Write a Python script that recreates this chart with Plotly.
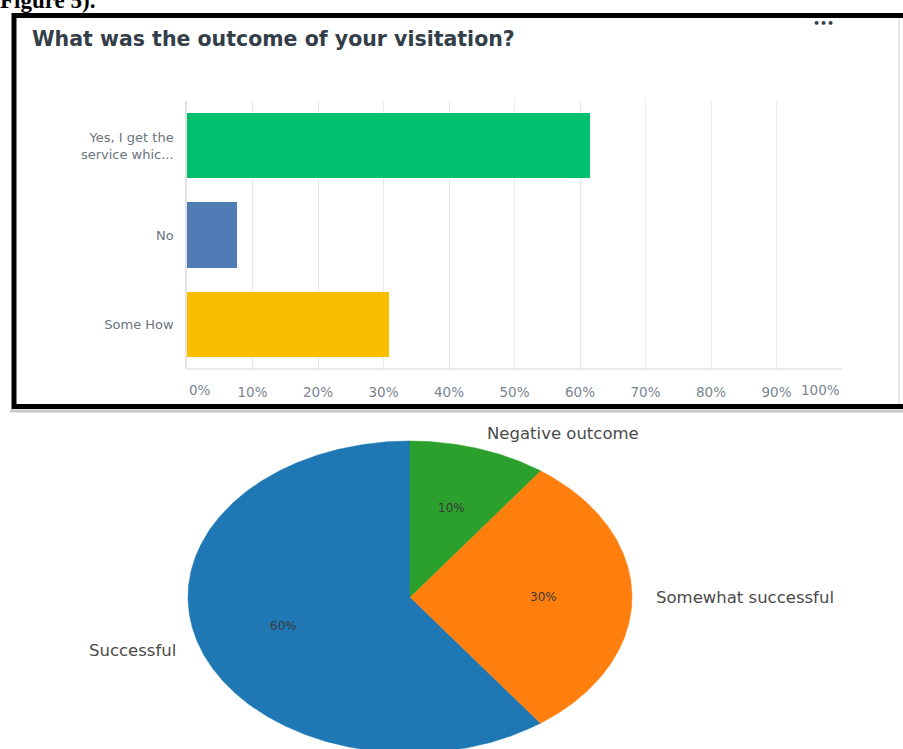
import math
import plotly.graph_objects as go

# ---- survey bar chart data ----
answers = ["Yes, I get the<br>service whic...", "No", "Some How"]
answer_pct = [61.54, 7.69, 30.77]
answer_colors = ["#00bf6f", "#507cb6", "#f9be00"]
x_ticks = [0, 10, 20, 30, 40, 50, 60, 70, 80, 90, 100]
x_tick_text = ["0%", "10%", "20%", "30%", "40%", "50%", "60%", "70%", "80%", "90%", "100%"]

# ---- pie chart data ----
outcomes = ["Successful", "Somewhat successful", "Negative outcome"]
outcome_share = [60, 30, 10]
outcome_colors = ["#1f77b4", "#ff7f0e", "#2ca02c"]

W, H = 903, 749


def px(x):
    return x / W


def py(y):
    return 1 - y / H


fig = go.Figure()

# horizontal bars
fig.add_trace(go.Bar(
    x=answer_pct, y=answers, orientation="h",
    marker=dict(color=answer_colors, line=dict(width=0)),
    width=0.73, xaxis="x", yaxis="y", hoverinfo="skip", showlegend=False,
))

# pie wedges drawn as filled polygons on a unit circle; unequal axis
# scaling stretches the circle into the wide ellipse
total = sum(outcome_share)
start = 90.0
annotations = []
for name, share, color in zip(outcomes, outcome_share, outcome_colors):
    sweep = 360.0 * share / total
    n = max(int(sweep * 2), 8)
    angs = [math.radians(start + sweep * k / n) for k in range(n + 1)]
    xs = [0] + [math.cos(a) for a in angs] + [0]
    ys = [0] + [math.sin(a) for a in angs] + [0]
    fig.add_trace(go.Scatter(
        x=xs, y=ys, mode="lines", fill="toself", fillcolor=color,
        line=dict(color=color, width=0.5), xaxis="x2", yaxis="y2",
        hoverinfo="skip", showlegend=False,
    ))
    mid = math.radians(start + sweep / 2)
    lx, ly = 1.1 * math.cos(mid), 1.1 * math.sin(mid)
    annotations.append(dict(
        x=lx, y=ly, xref="x2", yref="y2", text=name, showarrow=False,
        xanchor="left" if lx > 0 else "right", yanchor="middle",
        font=dict(family="DejaVu Sans", size=16.5, color="#4a4a4a"),
    ))
    annotations.append(dict(
        x=0.6 * math.cos(mid), y=0.6 * math.sin(mid), xref="x2", yref="y2",
        text=f"{share:.0f}%", showarrow=False, xanchor="center", yanchor="middle",
        font=dict(family="DejaVu Sans", size=12, color="#3a3a3a"),
    ))
    start += sweep

tick_font = dict(family="DejaVu Sans", size=13.5, color="#7a8590")

# edge tick labels sit inside the plot frame
annotations.append(dict(x=x_ticks[0], y=py(390), xref="x", yref="paper",
                        text=x_tick_text[0], showarrow=False, xanchor="left",
                        yanchor="middle", font=tick_font))
annotations.append(dict(x=x_ticks[-1], y=py(390), xref="x", yref="paper",
                        text=x_tick_text[-1], showarrow=False, xanchor="right",
                        yanchor="middle", font=tick_font))

# title, menu dots and caption
annotations.append(dict(x=px(30), y=py(39), xref="paper", yref="paper",
                        text="<b>What was the outcome of your visitation?</b>",
                        showarrow=False, xanchor="left", yanchor="middle",
                        font=dict(family="DejaVu Sans", size=20.5, color="#333e48")))
annotations.append(dict(x=px(823), y=py(23), xref="paper", yref="paper",
                        text="<b>•••</b>", showarrow=False, xanchor="center",
                        yanchor="middle",
                        font=dict(family="DejaVu Sans", size=11, color="#333e48")))
annotations.append(dict(x=px(-2), y=py(0), xref="paper", yref="paper",
                        text="<b>Figure 5).</b>", showarrow=False, xanchor="left",
                        yanchor="middle",
                        font=dict(family="Liberation Serif", size=23, color="#000000")))

shapes = [
    # framed card around the bar chart
    dict(type="line", xref="paper", yref="paper", x0=px(899), x1=px(899),
         y0=py(18), y1=py(404), line=dict(color="#d0d0d0", width=1)),
    dict(type="line", xref="paper", yref="paper", x0=px(10), x1=px(910),
         y0=py(411), y1=py(411), line=dict(color="#c8c8c8", width=3)),
    dict(type="rect", xref="paper", yref="paper", x0=px(14), x1=px(915),
         y0=py(15.5), y1=py(406.5), line=dict(color="#000000", width=5)),
    # light frame of the bar plot area
    dict(type="line", xref="paper", yref="paper", x0=px(187), x1=px(842),
         y0=py(369), y1=py(369), line=dict(color="#e3e3e3", width=1.5)),
]

fig.update_layout(
    width=W, height=H,
    margin=dict(l=0, r=0, t=0, b=0),
    paper_bgcolor="white", plot_bgcolor="white",
    bargap=0,
    xaxis=dict(
        domain=[px(187), px(842)], range=[0, 100], anchor="y",
        tickvals=x_ticks[1:-1], ticktext=x_tick_text[1:-1],
        tickfont=tick_font, ticks="", ticklabelstandoff=13,
        showgrid=True, gridcolor="#e8e8e8", gridwidth=1,
        zeroline=False, showline=False, fixedrange=True,
    ),
    yaxis=dict(
        domain=[py(369), py(101)], anchor="x",
        categoryorder="array", categoryarray=answers, autorange="reversed",
        tickfont=dict(family="DejaVu Sans", size=13, color="#6b7480"),
        ticks="", ticklabelstandoff=9, showgrid=False,
        zeroline=False, showline=True, linecolor="#e3e3e3", linewidth=1.5,
        fixedrange=True,
    ),
    xaxis2=dict(domain=[0, 1], range=[-410 / 222, 493 / 222], anchor="y2",
                visible=False, fixedrange=True),
    yaxis2=dict(domain=[0, py(414)], range=[-152 / 156, 183 / 156], anchor="x2",
                visible=False, fixedrange=True),
    annotations=annotations,
    shapes=shapes,
)

fig.write_html("out.html")
